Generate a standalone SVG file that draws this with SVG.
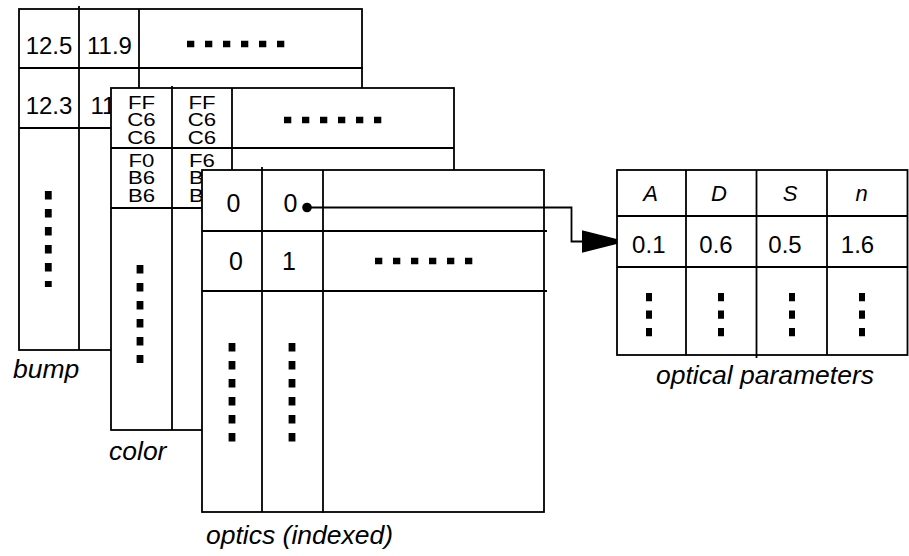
<svg xmlns="http://www.w3.org/2000/svg" width="909" height="556" viewBox="0 0 909 556">
<defs>
<style>
.box{fill:#fff;stroke:#000;stroke-width:1.8}
.ln{stroke:#000;stroke-width:1.8;fill:none}
.hd{stroke:#000;stroke-width:6.5;stroke-dasharray:7.3 10.7}
.vd{stroke:#000;stroke-width:6.8;stroke-dasharray:8.5 9.5}
.pd{stroke:#000;stroke-width:6;stroke-dasharray:8.3 9.2}
.t{font-family:"Liberation Sans",Arial,sans-serif;font-size:24px;fill:#000;text-anchor:middle}
.hx{font-family:"Liberation Sans",Arial,sans-serif;font-size:18.5px;fill:#000}
.lb{font-family:"Liberation Sans",Arial,sans-serif;font-size:26.5px;font-style:italic;fill:#000}
.it{font-family:"Liberation Sans",Arial,sans-serif;font-size:22px;font-style:italic;fill:#000;text-anchor:middle}
</style>
<marker id="ah" markerUnits="userSpaceOnUse" markerWidth="46" markerHeight="24" refX="45" refY="11.5" orient="auto">
<polygon points="0,0 45,11.5 0,23" fill="#000"/>
</marker>
</defs>

<g id="bump">
<rect class="box" x="19" y="9" width="343" height="341"/>
<line class="ln" x1="79" y1="6" x2="79" y2="350"/>
<line class="ln" x1="139" y1="9" x2="139" y2="350"/>
<line class="ln" x1="19" y1="68" x2="363" y2="68"/>
<line class="ln" x1="19" y1="128" x2="363" y2="128"/>
<text class="t" x="49" y="54">12.5</text>
<text class="t" x="109.5" y="54">11.9</text>
<text class="t" x="49" y="114">12.3</text>
<text class="t" x="90.5" y="114" style="text-anchor:start">11</text>
<line class="hd" x1="187" y1="44" x2="285" y2="44"/>
<line class="vd" x1="48.3" y1="191" x2="48.3" y2="287"/>
<text class="lb" x="13" y="378">bump</text>
</g>

<g id="color">
<rect class="box" x="111" y="88" width="343" height="342"/>
<line class="ln" x1="172" y1="86" x2="172" y2="430"/>
<line class="ln" x1="232" y1="88" x2="232" y2="430"/>
<line class="ln" x1="111" y1="148" x2="454" y2="148"/>
<line class="ln" x1="111" y1="208" x2="454" y2="208"/>
<text class="hx" text-anchor="middle" transform="translate(141.5 108.5) scale(1.2 1)"><tspan x="0" y="0">FF</tspan><tspan x="0" dy="18">C6</tspan><tspan x="0" dy="18">C6</tspan></text>
<text class="hx" text-anchor="middle" transform="translate(202 108.5) scale(1.2 1)"><tspan x="0" y="0">FF</tspan><tspan x="0" dy="18">C6</tspan><tspan x="0" dy="18">C6</tspan></text>
<text class="hx" text-anchor="middle" transform="translate(141.5 166.5) scale(1.2 1)"><tspan x="0" y="0">F0</tspan><tspan x="0" dy="18">B6</tspan><tspan x="0" dy="18">B6</tspan></text>
<text class="hx" transform="translate(189 166.5) scale(1.2 1)"><tspan x="0" y="0">F6</tspan><tspan x="0" dy="18">B</tspan><tspan x="0" dy="18">B</tspan></text>
<line class="hd" x1="284" y1="120" x2="382" y2="120"/>
<line class="vd" x1="140" y1="265" x2="140" y2="363"/>
<text class="lb" x="109" y="460">color</text>
</g>

<g id="optics">
<rect class="box" x="202" y="170" width="342" height="342"/>
<line class="ln" x1="262" y1="167" x2="262" y2="512"/>
<line class="ln" x1="323" y1="170" x2="323" y2="513"/>
<line class="ln" x1="202" y1="231" x2="547" y2="231"/>
<line class="ln" x1="202" y1="291" x2="547" y2="291"/>
<text class="t" x="233.5" y="212" style="font-size:25px">0</text>
<text class="t" x="290.5" y="212" style="font-size:25px">0</text>
<text class="t" x="236" y="270" style="font-size:25px">0</text>
<text class="t" x="289" y="270" style="font-size:25px">1</text>
<line class="hd" x1="375" y1="261" x2="473" y2="261"/>
<line class="vd" x1="232" y1="343" x2="232" y2="443"/>
<line class="vd" x1="292" y1="343" x2="292" y2="443"/>
<text class="lb" x="206" y="544">optics (indexed)</text>
</g>

<g id="connectors">
<circle cx="307" cy="207.5" r="4.8" fill="#000"/>
<polyline class="ln" points="307,207.5 571.5,207.5 571.5,241.5 626.5,241.5" marker-end="url(#ah)"/>
</g>

<g id="optical-parameters">
<rect class="box" x="617" y="170" width="290.5" height="185"/>
<line class="ln" x1="686" y1="170" x2="686" y2="355"/>
<line class="ln" x1="756.5" y1="170" x2="756.5" y2="358"/>
<line class="ln" x1="827" y1="170" x2="827" y2="355"/>
<line class="ln" x1="617" y1="216" x2="907.5" y2="216"/>
<line class="ln" x1="617" y1="267" x2="907.5" y2="267"/>
<text class="it" x="650.5" y="201">A</text>
<text class="it" x="719" y="201">D</text>
<text class="it" x="790" y="201">S</text>
<text class="it" x="861.5" y="201">n</text>
<text class="t" x="648.8" y="253">0.1</text>
<text class="t" x="716" y="253">0.6</text>
<text class="t" x="785" y="253">0.5</text>
<text class="t" x="857.5" y="253">1.6</text>
<line class="pd" x1="649" y1="293" x2="649" y2="337"/>
<line class="pd" x1="721" y1="293" x2="721" y2="337"/>
<line class="pd" x1="792" y1="293" x2="792" y2="337"/>
<line class="pd" x1="862" y1="293" x2="862" y2="337"/>
<text class="lb" x="656" y="384">optical parameters</text>
</g>
</svg>
